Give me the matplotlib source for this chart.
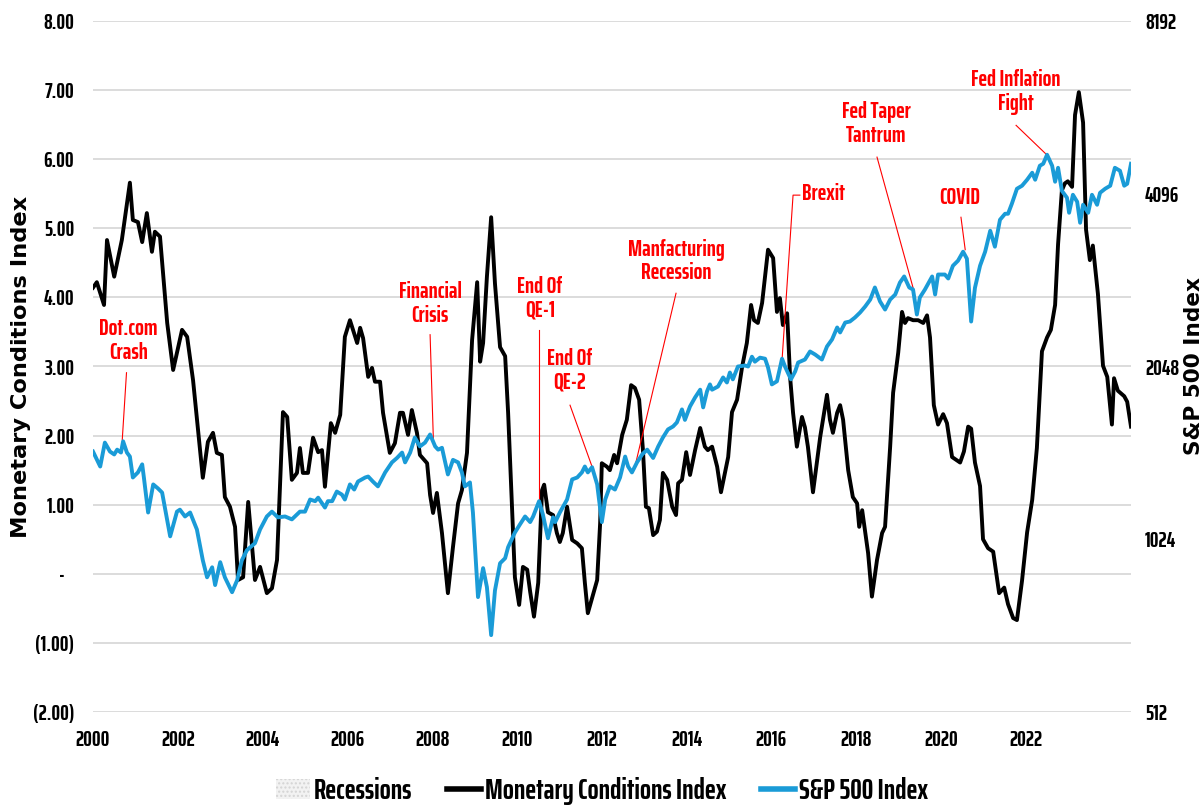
import os
import matplotlib
matplotlib.use("Agg")
import matplotlib.pyplot as plt
from matplotlib import font_manager as fm
from matplotlib.patches import Patch
from matplotlib.lines import Line2D

# ---------------- data ----------------
mci_year = [2000.00, 2000.09, 2000.26, 2000.33, 2000.50, 2000.68, 2000.87, 2000.94, 2001.06, 2001.16,
            2001.27, 2001.39, 2001.46, 2001.58, 2001.75, 2001.89, 2002.10, 2002.22, 2002.36, 2002.59,
            2002.71, 2002.83, 2002.92, 2003.04, 2003.11, 2003.23, 2003.35, 2003.42, 2003.54, 2003.66,
            2003.82, 2003.94, 2004.10, 2004.22, 2004.34, 2004.48, 2004.58, 2004.69, 2004.81, 2004.88,
            2004.95, 2005.07, 2005.19, 2005.31, 2005.40, 2005.47, 2005.61, 2005.71, 2005.83, 2005.94,
            2006.06, 2006.23, 2006.30, 2006.37, 2006.49, 2006.58, 2006.65, 2006.77, 2006.84, 2007.00,
            2007.12, 2007.24, 2007.31, 2007.43, 2007.52, 2007.64, 2007.71, 2007.88, 2007.95, 2008.02,
            2008.11, 2008.23, 2008.37, 2008.49, 2008.61, 2008.70, 2008.82, 2008.94, 2009.06, 2009.13,
            2009.20, 2009.29, 2009.39, 2009.48, 2009.60, 2009.72, 2009.79, 2009.95, 2010.05, 2010.14,
            2010.24, 2010.31, 2010.40, 2010.50, 2010.59, 2010.64, 2010.73, 2010.85, 2010.94, 2011.01,
            2011.08, 2011.18, 2011.30, 2011.42, 2011.53, 2011.60, 2011.67, 2011.79, 2011.89, 2011.96,
            2012.00, 2012.12, 2012.19, 2012.29, 2012.36, 2012.48, 2012.59, 2012.69, 2012.78, 2012.88,
            2012.97, 2013.04, 2013.11, 2013.21, 2013.30, 2013.37, 2013.44, 2013.54, 2013.66, 2013.75,
            2013.80, 2013.89, 2013.99, 2014.08, 2014.20, 2014.32, 2014.43, 2014.50, 2014.60, 2014.72,
            2014.81, 2014.98, 2015.07, 2015.19, 2015.31, 2015.42, 2015.52, 2015.59, 2015.68, 2015.78,
            2015.92, 2016.04, 2016.13, 2016.20, 2016.27, 2016.37, 2016.44, 2016.51, 2016.60, 2016.72,
            2016.79, 2016.86, 2016.98, 2017.15, 2017.31, 2017.38, 2017.45, 2017.55, 2017.62, 2017.69,
            2017.81, 2017.92, 2018.02, 2018.07, 2018.14, 2018.28, 2018.37, 2018.49, 2018.61, 2018.68,
            2018.80, 2018.87, 2018.99, 2019.08, 2019.15, 2019.22, 2019.34, 2019.46, 2019.58, 2019.67,
            2019.74, 2019.83, 2019.93, 2020.05, 2020.14, 2020.26, 2020.45, 2020.54, 2020.64, 2020.71,
            2020.80, 2020.92, 2020.99, 2021.11, 2021.23, 2021.37, 2021.49, 2021.58, 2021.70, 2021.79,
            2021.91, 2022.03, 2022.15, 2022.26, 2022.38, 2022.50, 2022.59, 2022.69, 2022.76, 2022.85,
            2022.92, 2022.99, 2023.09, 2023.16, 2023.25, 2023.35, 2023.42, 2023.51, 2023.58, 2023.70,
            2023.82, 2023.92, 2024.03, 2024.08, 2024.17, 2024.32, 2024.39, 2024.48]
mci_value = [4.14, 4.22, 3.89, 4.83, 4.30, 4.83, 5.66, 5.12, 5.09, 4.80,
             5.22, 4.66, 4.95, 4.88, 3.63, 2.95, 3.53, 3.43, 2.80, 1.39,
             1.91, 2.04, 1.75, 1.72, 1.11, 0.97, 0.68, -0.09, -0.05, 1.04,
             -0.09, 0.10, -0.28, -0.21, 0.20, 2.34, 2.27, 1.36, 1.46, 1.82,
             1.46, 1.46, 1.97, 1.76, 1.79, 1.26, 2.18, 2.04, 2.30, 3.43,
             3.67, 3.34, 3.56, 3.41, 2.85, 2.98, 2.78, 2.78, 2.33, 1.75,
             1.89, 2.33, 2.33, 2.01, 2.37, 2.04, 1.72, 1.60, 1.14, 0.88,
             1.17, 0.59, -0.28, 0.39, 1.02, 1.21, 1.75, 3.38, 4.22, 3.07,
             3.34, 4.30, 5.16, 4.20, 3.28, 3.15, 2.33, -0.05, -0.45, 0.10,
             0.06, -0.26, -0.62, -0.13, 1.21, 1.29, 0.89, 0.85, 0.59, 0.46,
             0.59, 0.97, 0.49, 0.44, 0.37, -0.13, -0.57, -0.31, -0.09, 0.73,
             1.60, 1.55, 1.50, 1.72, 1.60, 2.01, 2.23, 2.73, 2.69, 2.52,
             1.79, 0.97, 0.95, 0.56, 0.61, 0.78, 1.46, 1.36, 0.97, 0.85,
             1.31, 1.36, 1.76, 1.43, 1.79, 2.11, 1.84, 1.79, 1.84, 1.55,
             1.18, 1.69, 2.34, 2.52, 3.00, 3.34, 3.89, 3.67, 3.63, 3.92,
             4.69, 4.57, 3.79, 3.99, 3.60, 3.77, 2.85, 2.33, 1.84, 2.27,
             2.12, 1.84, 1.18, 1.98, 2.59, 2.23, 2.04, 2.33, 2.44, 2.23,
             1.50, 1.11, 1.02, 0.68, 0.92, 0.30, -0.33, 0.20, 0.59, 0.68,
             1.84, 2.62, 3.20, 3.79, 3.63, 3.70, 3.67, 3.67, 3.63, 3.74,
             3.42, 2.44, 2.16, 2.31, 2.18, 1.69, 1.61, 1.77, 2.13, 2.10,
             1.61, 1.27, 0.50, 0.37, 0.32, -0.28, -0.20, -0.44, -0.64, -0.67,
             -0.10, 0.60, 1.07, 1.82, 3.22, 3.42, 3.53, 3.89, 4.77, 5.55,
             5.65, 5.68, 5.60, 6.64, 6.97, 6.53, 4.98, 4.54, 4.75, 4.05,
             3.01, 2.85, 2.16, 2.83, 2.65, 2.57, 2.49, 2.13]

spx_year = [2000.00, 2000.17, 2000.28, 2000.40, 2000.50, 2000.57, 2000.66, 2000.71, 2000.80, 2000.87,
            2000.94, 2001.06, 2001.16, 2001.20, 2001.30, 2001.42, 2001.53, 2001.63, 2001.82, 2001.98,
            2002.05, 2002.17, 2002.29, 2002.45, 2002.59, 2002.69, 2002.81, 2002.88, 2003.00, 2003.11,
            2003.28, 2003.40, 2003.51, 2003.63, 2003.82, 2003.94, 2004.10, 2004.22, 2004.36, 2004.53,
            2004.69, 2004.88, 2005.00, 2005.12, 2005.24, 2005.31, 2005.47, 2005.54, 2005.64, 2005.75,
            2005.87, 2005.94, 2006.06, 2006.16, 2006.25, 2006.42, 2006.49, 2006.60, 2006.72, 2006.89,
            2007.05, 2007.17, 2007.29, 2007.36, 2007.48, 2007.59, 2007.71, 2007.83, 2007.95, 2008.07,
            2008.14, 2008.23, 2008.37, 2008.49, 2008.61, 2008.70, 2008.77, 2008.89, 2008.96, 2009.08,
            2009.20, 2009.29, 2009.39, 2009.48, 2009.60, 2009.72, 2009.79, 2009.95, 2010.07, 2010.19,
            2010.31, 2010.38, 2010.52, 2010.61, 2010.73, 2010.85, 2010.90, 2011.01, 2011.18, 2011.30,
            2011.42, 2011.53, 2011.60, 2011.67, 2011.77, 2011.89, 2012.00, 2012.08, 2012.19, 2012.31,
            2012.43, 2012.55, 2012.62, 2012.71, 2012.78, 2012.83, 2012.95, 2013.07, 2013.21, 2013.33,
            2013.44, 2013.56, 2013.68, 2013.77, 2013.89, 2013.96, 2014.08, 2014.20, 2014.32, 2014.39,
            2014.48, 2014.55, 2014.60, 2014.74, 2014.86, 2014.95, 2015.02, 2015.09, 2015.21, 2015.38,
            2015.45, 2015.54, 2015.61, 2015.73, 2015.85, 2015.92, 2016.01, 2016.13, 2016.25, 2016.32,
            2016.46, 2016.56, 2016.63, 2016.79, 2016.91, 2017.03, 2017.19, 2017.31, 2017.43, 2017.55,
            2017.62, 2017.74, 2017.85, 2017.97, 2018.09, 2018.21, 2018.33, 2018.44, 2018.56, 2018.68,
            2018.80, 2018.92, 2019.03, 2019.13, 2019.25, 2019.34, 2019.43, 2019.50, 2019.62, 2019.79,
            2019.86, 2019.93, 2020.09, 2020.17, 2020.28, 2020.40, 2020.52, 2020.61, 2020.71, 2020.80,
            2020.92, 2021.04, 2021.16, 2021.27, 2021.39, 2021.51, 2021.58, 2021.67, 2021.79, 2021.91,
            2022.03, 2022.15, 2022.22, 2022.33, 2022.41, 2022.50, 2022.62, 2022.69, 2022.76, 2022.85,
            2022.97, 2023.02, 2023.11, 2023.21, 2023.28, 2023.35, 2023.47, 2023.56, 2023.68, 2023.75,
            2023.87, 2023.99, 2024.10, 2024.22, 2024.32, 2024.39, 2024.48]
spx_value = [1456, 1371, 1509, 1456, 1439, 1467, 1450, 1517, 1450, 1427,
             1312, 1339, 1383, 1312, 1140, 1276, 1256, 1235, 1036, 1144,
             1153, 1122, 1140, 1065, 941, 879, 915, 852, 934, 879,
             828, 869, 941, 980, 1008, 1065, 1122, 1144, 1118, 1122,
             1109, 1144, 1144, 1201, 1193, 1210, 1163, 1193, 1193, 1240,
             1225, 1201, 1276, 1250, 1291, 1312, 1317, 1291, 1266, 1339,
             1394, 1419, 1450, 1394, 1450, 1540, 1486, 1509, 1559, 1486,
             1467, 1478, 1328, 1408, 1394, 1339, 1266, 1286, 1140, 812,
             912, 845, 697, 834, 930, 949, 992, 1052, 1087, 1122,
             1097, 1122, 1193, 1131, 1028, 1118, 1097, 1140, 1201, 1302,
             1312, 1339, 1371, 1339, 1367, 1276, 1097, 1201, 1266, 1250,
             1312, 1427, 1371, 1339, 1371, 1394, 1439, 1467, 1419, 1486,
             1540, 1591, 1610, 1636, 1724, 1653, 1745, 1809, 1866, 1738,
             1853, 1906, 1866, 1890, 1960, 1921, 1999, 1945, 2048, 2056,
             2048, 2130, 2088, 2122, 2113, 2040, 1906, 1930, 2113, 2048,
             1945, 2008, 2081, 2106, 2175, 2149, 2106, 2219, 2283, 2395,
             2348, 2443, 2453, 2493, 2543, 2605, 2679, 2812, 2660, 2574,
             2679, 2734, 2868, 2939, 2812, 2789, 2523, 2701, 2789, 2939,
             2734, 2962, 2962, 2915, 3068, 3131, 3246, 3156, 2453, 2809,
             3068, 3246, 3531, 3312, 3690, 3780, 3780, 3935, 4179, 4230,
             4333, 4456, 4333, 4583, 4620, 4790, 4583, 4298, 4546, 4145,
             4031, 3795, 4079, 3967, 3646, 3919, 3795, 4079, 3919, 4112,
             4179, 4230, 4546, 4492, 4230, 4263, 4620]

x_ticks = [2000, 2002, 2004, 2006, 2008, 2010, 2012, 2014, 2016, 2018, 2020, 2022]
left_ticks = [8, 7, 6, 5, 4, 3, 2, 1, 0, -1, -2]
left_tick_labels = ["8.00", "7.00", "6.00", "5.00", "4.00", "3.00", "2.00", "1.00",
                    "-   ", "(1.00)", "(2.00)"]
right_ticks = [512, 1024, 2048, 4096, 8192]

# annotations: (text, text position, leader-line points)
events = [
    ("Dot.com\nCrash", (2000.83, 3.37), [(2000.79, 2.91), (2000.69, 1.94)]),
    ("Financial\nCrisis", (2007.95, 3.90), [(2007.95, 3.46), (2008.03, 1.89)]),
    ("End Of\nQE-1", (2010.54, 3.98), [(2010.52, 3.53), (2010.52, 1.04)]),
    ("End Of\nQE-2", (2011.25, 2.94), [(2011.25, 2.44), (2011.77, 1.55)]),
    ("Manfacturing\nRecession", (2013.75, 4.52), [(2013.75, 4.06), (2012.78, 1.55)]),
    ("Fed Taper\nTantrum", (2018.47, 6.51), [(2018.49, 6.03), (2019.34, 4.14)]),
    ("COVID", (2020.45, 5.44), [(2020.47, 5.16), (2020.57, 4.69)]),
    ("Fed Inflation\nFight", (2021.77, 6.97), [(2021.77, 6.49), (2022.50, 6.06)]),
]
brexit_text = ("Brexit", (2016.72, 5.49))
brexit_line = [(2016.67, 5.48), (2016.51, 5.48), (2016.25, 3.09)]


# ---------------- fonts: look for a narrow / condensed sans face ----------------
def pick_font(bold):
    files = sorted({f.fname for f in fm.fontManager.ttflist})
    prefs = ["liberationsansnarrow", "extracondensed", "dejavusanscondensed", "robotocondensed",
             "roboto_condensed", "opensans_condensed", "opensanscondensed", "opensans-condensed",
             "notosans-condensed", "notosanscondensed", "condensed", "narrow"]
    bad = ["italic", "oblique", "light", "thin", "medium", "semibold", "black", "extra", "mono",
           "serif", "semi", "ultra", "display"]
    for p in prefs:
        cands = []
        for fn in files:
            b = os.path.basename(fn).lower().replace(" ", "")
            if p not in b:
                continue
            rest = b.replace(p, "")
            if any(x in rest for x in bad):
                continue
            if ("bold" in rest) != bold:
                continue
            cands.append(fn)
        if cands:
            return sorted(cands, key=len)[0]
    return None


REG_FILE = pick_font(False)
BOLD_FILE = pick_font(True) or REG_FILE


def fp(size, bold=False):
    f = BOLD_FILE if bold else REG_FILE
    if f:
        return fm.FontProperties(fname=f, size=size)
    return fm.FontProperties(family="Liberation Sans", size=size,
                             weight="bold" if bold else "normal")


# ---------------- styling ----------------
BLUE = "#1A9BD7"
RED = "#FF0000"
GRID = "#D9D9D9"

W, H = 1202, 805
fig = plt.figure(figsize=(W / 100, H / 100), dpi=100)
renderer = fig.canvas.get_renderer()


def fit_size(sample, target_px, bold=False, base=20.0, lo=9, hi=21):
    w, _, _ = renderer.get_text_width_height_descent(sample, fp(base, bold), ismath=False)
    return max(lo, min(hi, base * target_px / w))


def fit_size_family(sample, target_px, family, weight, base=20.0):
    prop = fm.FontProperties(family=family, weight=weight, size=base)
    w, _, _ = renderer.get_text_width_height_descent(sample, prop, ismath=False)
    return base * target_px / w


TICK_SIZE = fit_size("2000", 34, bold=True)
ANN_SIZE = fit_size("Manfacturing", 97, bold=True)
LEG_SIZE = fit_size("Monetary Conditions Index", 247, bold=True)
YL_SIZE = fit_size_family("Monetary Conditions Index", 341, "DejaVu Sans", "bold")
YR_SIZE = fit_size_family("S&P 500 Index", 178, "DejaVu Sans", "bold")

ax = fig.add_axes([93 / W, 1 - 712 / H, (1131 - 93) / W, (712 - 21) / H])
ax2 = ax.twinx()

ax.set_xlim(2000, 2024.48)
ax.set_ylim(-2, 8)
ax2.set_yscale("log", base=2)
ax2.set_ylim(512, 8192)

for a in (ax, ax2):
    for s in a.spines.values():
        s.set_visible(False)
    a.tick_params(length=0)

TICK_FP = fp(TICK_SIZE, bold=True)
ax.set_yticks(left_ticks)
ax.set_yticklabels(left_tick_labels, fontproperties=TICK_FP)
ax.tick_params(axis="y", pad=13.5)
ax.yaxis.grid(True, color=GRID, lw=1.3)
ax.set_axisbelow(True)

ax.set_xticks(x_ticks)
ax.set_xticklabels([str(t) for t in x_ticks], fontproperties=TICK_FP)
ax.tick_params(axis="x", pad=13)

ax2.set_yticks(right_ticks)
ax2.set_yticklabels([str(t) for t in right_ticks], fontproperties=TICK_FP)
ax2.yaxis.set_minor_locator(plt.NullLocator())
ax2.tick_params(axis="y", pad=10)

ax.plot(mci_year, mci_value, color="black", lw=2.8, solid_joinstyle="round", zorder=3)
ax2.plot(spx_year, spx_value, color=BLUE, lw=2.8, solid_joinstyle="round", zorder=3)

ANN_FP = fp(ANN_SIZE, bold=True)
for txt, pos, line in events:
    ax.text(pos[0], pos[1], txt, color=RED, fontproperties=ANN_FP,
            ha="center", va="center", linespacing=1.1, zorder=6)
    xs, ys = zip(*line)
    ax.plot(xs, ys, color=RED, lw=0.8, zorder=6)

ax.text(brexit_text[1][0], brexit_text[1][1], brexit_text[0], color=RED, fontproperties=ANN_FP,
        ha="left", va="center", zorder=6)
bx, by = zip(*brexit_line)
ax.plot(bx, by, color=RED, lw=0.8, zorder=6)

fig.text(21 / W, 1 - 367 / H, "Monetary Conditions Index", rotation=90, ha="center", va="center",
         fontsize=YL_SIZE, fontweight="bold", family="DejaVu Sans")
fig.text(1194 / W, 1 - 366 / H, "S&P 500 Index", rotation=90, ha="center", va="center",
         fontsize=YR_SIZE, fontweight="bold", family="DejaVu Sans")

handles = [Patch(facecolor="#F2F2F2", edgecolor="#D4D4D4", hatch="....", lw=0),
           Line2D([], [], color="black", lw=4),
           Line2D([], [], color=BLUE, lw=4)]
labels = ["Recessions", "Monetary Conditions Index", "S&P 500 Index"]
LEG_PX = LEG_SIZE * 100 / 72
leg = fig.legend(handles, labels, loc="center", bbox_to_anchor=(602 / W, 1 - 791 / H), ncol=3,
                 frameon=False, handlelength=34 / LEG_PX, handletextpad=4 / LEG_PX,
                 columnspacing=35 / LEG_PX, prop=fp(LEG_SIZE, bold=True))

fig.savefig("out.png", dpi=100)
